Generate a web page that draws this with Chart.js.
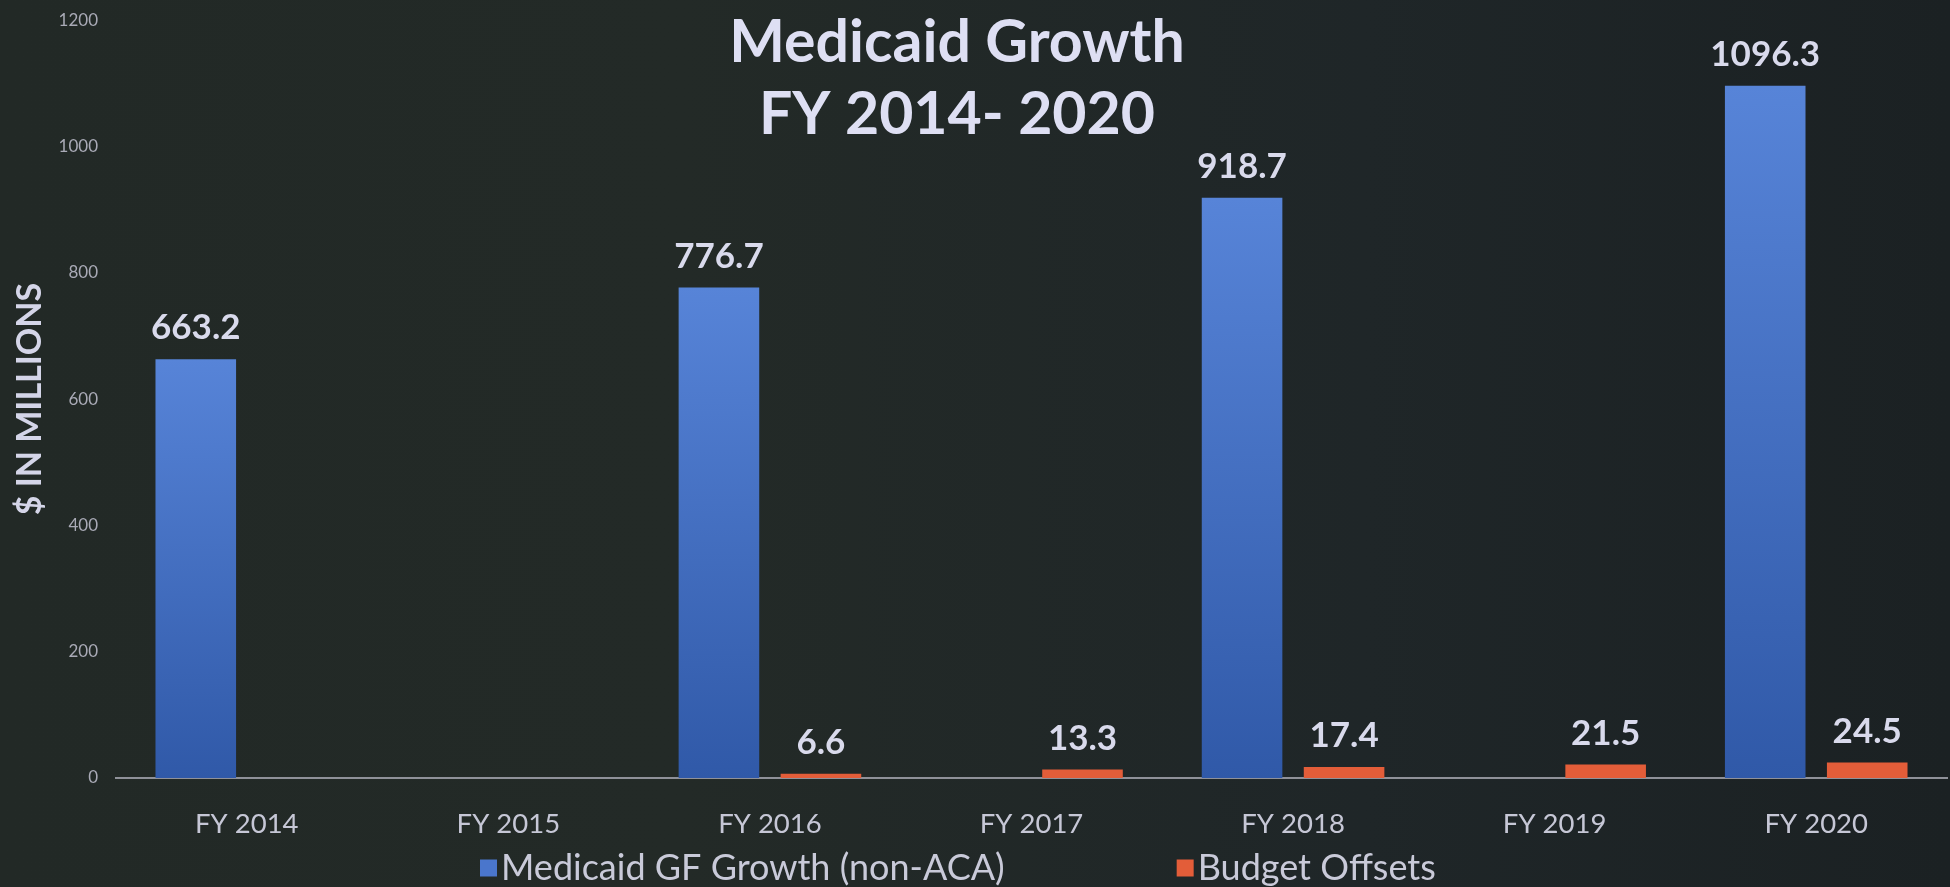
<!DOCTYPE html>
<html>
<head>
<meta charset="utf-8">
<title>Medicaid Growth FY 2014-2020</title>
<script src="https://cdn.jsdelivr.net/npm/chart.js@4.4.0/dist/chart.umd.min.js"></script>
<style>
    html, body { margin: 0; padding: 0; }
    body {
        width: 1950px;
        height: 887px;
        overflow: hidden;
        background: linear-gradient(90deg, #222926 0%, #232a27 35%, #1f2628 70%, #1b2123 100%);
    }
    #wrap { position: relative; width: 1950px; height: 887px; }
</style>
</head>
<body>
<div id="wrap"><canvas id="graficoMedicaid"></canvas></div>
<script>
// datos del gráfico
const categories = ['FY 2014', 'FY 2015', 'FY 2016', 'FY 2017', 'FY 2018', 'FY 2019', 'FY 2020'];
const medicaidGrowth = [663.2, null, 776.7, null, 918.7, null, 1096.3];
const budgetOffsets = [null, null, 6.6, 13.3, 17.4, 21.5, 24.5];
const seriesNames = ['Medicaid GF Growth (non-ACA)', 'Budget Offsets'];
const titleLines = ['Medicaid Growth', 'FY 2014- 2020'];
const yTitle = '$ IN MILLIONS';
const yMax = 1200;
const yStep = 200;

const FONT = 'Lato, "Open Sans", sans-serif';
const blueTop = '#5784d8';
const blueBottom = '#3059a8';
const blueFlat = '#4a76cc';
const orange = '#e35d39';

// gradiente por barra (claro arriba, oscuro abajo)
function blueFill(context) {
    const chart = context.chart;
    const v = context.raw;
    if (!chart.chartArea || v === null || v === undefined) return blueFlat;
    const y = chart.scales.y;
    const g = chart.ctx.createLinearGradient(0, y.getPixelForValue(v), 0, y.getPixelForValue(0));
    g.addColorStop(0, blueTop);
    g.addColorStop(1, blueBottom);
    return g;
}

// título encima del área del gráfico
const titlePlugin = {
    id: 'tituloSuperpuesto',
    afterDraw(chart) {
        const ctx = chart.ctx;
        ctx.save();
        ctx.fillStyle = '#dedff3';
        ctx.font = 'bold 59px ' + FONT;
        ctx.textAlign = 'center';
        ctx.textBaseline = 'alphabetic';
        ctx.fillText(titleLines[0], 957, 62);
        ctx.fillText(titleLines[1], 957, 134);
        ctx.restore();
    }
};

// etiquetas de valores sobre cada barra
const valueLabels = {
    id: 'etiquetasValor',
    afterDatasetsDraw(chart) {
        const ctx = chart.ctx;
        ctx.save();
        ctx.fillStyle = '#d9daec';
        ctx.font = 'bold 35px ' + FONT;
        ctx.textAlign = 'center';
        ctx.textBaseline = 'middle';
        chart.data.datasets.forEach((ds, i) => {
            const meta = chart.getDatasetMeta(i);
            meta.data.forEach((bar, j) => {
                const v = ds.data[j];
                if (v === null || v === undefined) return;
                ctx.fillText(v.toFixed(1), bar.x, bar.y - 31);
            });
        });
        ctx.restore();
    }
};

// leyenda abajo, con separación amplia entre elementos
const legendPlugin = {
    id: 'leyendaAbajo',
    afterDraw(chart) {
        const ctx = chart.ctx;
        const colors = [blueFlat, orange];
        const y = 868;
        let x = 480;
        ctx.save();
        ctx.font = '36px ' + FONT;
        ctx.textAlign = 'left';
        ctx.textBaseline = 'middle';
        chart.data.datasets.forEach((ds, i) => {
            ctx.fillStyle = colors[i];
            ctx.fillRect(x, y - 8.5, 17, 17);
            ctx.fillStyle = '#c9cad9';
            ctx.fillText(ds.label, x + 21, y);
            x += 21 + ctx.measureText(ds.label).width + 172;
        });
        ctx.restore();
    }
};

document.addEventListener('DOMContentLoaded', function() {
    const ctx = document.getElementById('graficoMedicaid');

    new Chart(ctx.getContext('2d'), {
        type: 'bar',
        data: {
            labels: categories,
            datasets: [{
                label: seriesNames[0],
                data: medicaidGrowth,
                backgroundColor: blueFill,
                borderWidth: 0,
                categoryPercentage: 0.78,
                barPercentage: 0.79
            }, {
                label: seriesNames[1],
                data: budgetOffsets,
                backgroundColor: orange,
                borderWidth: 0,
                categoryPercentage: 0.78,
                barPercentage: 0.79
            }]
        },
        options: {
            responsive: true,
            maintainAspectRatio: false,
            animation: false,
            layout: {
                padding: { top: 18, right: 3, bottom: 44, left: 0 }
            },
            plugins: {
                tooltip: { enabled: false },
                legend: { display: false }
            },
            scales: {
                x: {
                    grid: { display: false },
                    border: { display: true, color: '#8f9199', width: 2 },
                    ticks: {
                        color: '#c6c7d6',
                        font: { family: FONT, size: 27.5 },
                        padding: 22,
                        maxRotation: 0
                    },
                    afterFit: function(scale) { scale.height = 65; }
                },
                y: {
                    min: 0,
                    max: yMax,
                    grid: { display: false },
                    border: { display: false },
                    ticks: {
                        stepSize: yStep,
                        color: '#a9aab6',
                        font: { family: FONT, size: 17 },
                        padding: 10,
                        callback: value => String(value)
                    },
                    title: {
                        display: true,
                        text: yTitle,
                        color: '#d4d5e8',
                        font: { family: FONT, size: 34, weight: 'bold' },
                        padding: { top: 10, bottom: 0 }
                    },
                    afterFit: function(scale) { scale.width = 116; }
                }
            }
        },
        plugins: [titlePlugin, valueLabels, legendPlugin]
    });
    console.log('✅ gráfico creado');
});
</script>
</body>
</html>
